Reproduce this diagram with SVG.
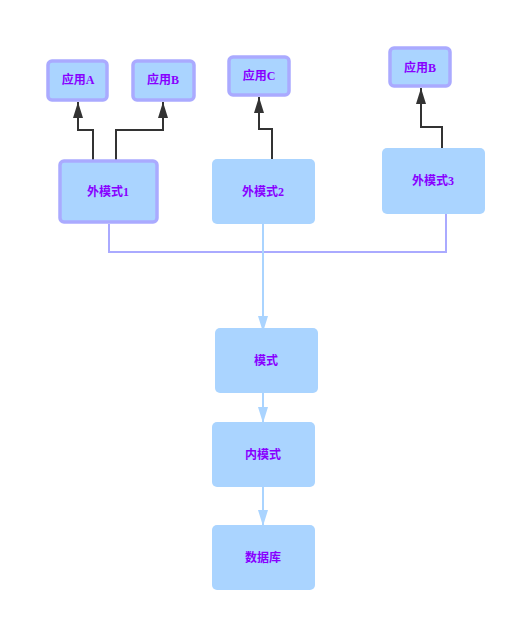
<svg xmlns="http://www.w3.org/2000/svg" width="515" height="620" viewBox="0 0 515 620">
<style>
.n{fill:#aad4ff;}
.s{stroke:#aaaaff;stroke-width:3.5;}
.t{font-family:"Liberation Serif","Noto Sans CJK SC",serif;font-size:12px;font-weight:bold;fill:#8800ff;text-anchor:middle;dominant-baseline:central;}
.k{fill:none;stroke:#333333;stroke-width:2;}
.b{fill:none;stroke:#aad4ff;stroke-width:2;}
.l{fill:none;stroke:#aaaaff;stroke-width:2;}
</style>
<defs>
<marker id="ak" markerUnits="userSpaceOnUse" markerWidth="16" markerHeight="10" refX="16" refY="5" orient="auto" viewBox="0 0 16 10" overflow="visible">
<path d="M0,0 L16,5 L0,10 Z" fill="#333333"/>
</marker>
<marker id="ab" markerUnits="userSpaceOnUse" markerWidth="16" markerHeight="10" refX="16" refY="5" orient="auto" viewBox="0 0 16 10" overflow="visible">
<path d="M0,0 L16,5 L0,10 Z" fill="#aad4ff"/>
</marker>
</defs>
<rect width="515" height="620" fill="#ffffff"/>
<g id="connectors">
<path class="k" d="M93,160 V130 H78 V102" marker-end="url(#ak)"/>
<path class="k" d="M116,160 V130 H163 V102" marker-end="url(#ak)"/>
<path class="k" d="M272,159 V129 H259 V97" marker-end="url(#ak)"/>
<path class="k" d="M442,148 V127 H421 V88" marker-end="url(#ak)"/>
<path class="l" d="M109,224 V252 H446 V214"/>
<path class="b" d="M263,224 V332" marker-end="url(#ab)"/>
<path class="b" d="M263,393 V423" marker-end="url(#ab)"/>
<path class="b" d="M263,487 V526" marker-end="url(#ab)"/>
</g>
<g id="appA"><rect class="n s" x="48" y="61" width="59" height="39" rx="4"/><text class="t" x="78" y="80">应用A</text></g>
<g id="appB1"><rect class="n s" x="133" y="61" width="61" height="39" rx="4"/><text class="t" x="163" y="80">应用B</text></g>
<g id="appC"><rect class="n s" x="229" y="57" width="60" height="38" rx="4"/><text class="t" x="259" y="76">应用C</text></g>
<g id="appB2"><rect class="n s" x="390" y="48" width="60" height="38" rx="4"/><text class="t" x="420" y="68">应用B</text></g>
<g id="ext1"><rect class="n s" x="60" y="161" width="97" height="61" rx="4"/><text class="t" x="108" y="192">外模式1</text></g>
<g id="ext2"><rect class="n" x="212" y="159" width="103" height="65" rx="5"/><text class="t" x="263" y="192">外模式2</text></g>
<g id="ext3"><rect class="n" x="382" y="148" width="103" height="66" rx="5"/><text class="t" x="433" y="181">外模式3</text></g>
<g id="schema"><rect class="n" x="215" y="328" width="103" height="65" rx="5"/><text class="t" x="266" y="361">模式</text></g>
<g id="internal"><rect class="n" x="212" y="422" width="103" height="65" rx="5"/><text class="t" x="263" y="455">内模式</text></g>
<g id="db"><rect class="n" x="212" y="525" width="103" height="65" rx="5"/><text class="t" x="263" y="558">数据库</text></g>
</svg>
